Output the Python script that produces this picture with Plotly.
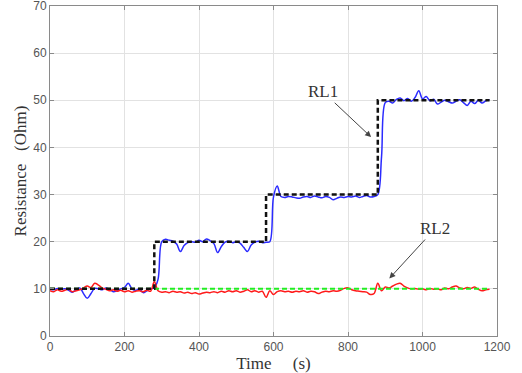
import plotly.graph_objects as go

time_s = list(range(0, 1190, 10))

rl1 = [10.0, 9.8, 10.1, 9.9, 10.0, 9.7, 9.3, 9.8, 10.2, 9.0,
       8.0, 9.0, 10.1, 10.0, 9.8, 10.2, 9.9, 9.4, 9.6, 10.0,
       10.3, 11.2, 10.0, 9.7, 10.0, 9.2, 9.6, 10.0, 10.2, 12.0,
       20.0, 20.5, 20.3, 20.1, 19.5, 17.9, 19.2, 19.8, 20.0, 19.9,
       20.3, 20.0, 20.6, 20.2, 19.6, 17.7, 19.0, 19.9, 20.1, 19.8,
       20.0, 19.7, 18.8, 17.9, 19.3, 19.9, 20.1, 19.8, 19.9, 20.0,
       29.5, 31.8, 29.6, 29.4, 29.6, 29.5, 29.3, 29.2, 29.5, 29.6,
       29.4, 29.7, 29.5, 29.3, 29.6, 29.4, 28.9, 29.2, 29.5, 29.4,
       29.6, 29.5, 29.7, 29.4, 29.6, 29.8, 29.5, 29.6, 30.0, 38.0,
       49.5, 49.8, 49.4, 50.2, 50.5, 49.9, 50.4, 49.8, 50.6, 52.0,
       50.3, 50.8, 49.9, 50.2, 49.2, 49.6, 50.0, 49.7, 49.4, 49.8,
       50.1, 49.5, 48.9, 49.8, 49.3, 50.0, 49.4, 49.9, 50.1]

rl2 = [9.6, 9.4, 9.8, 9.5, 9.7, 9.9, 9.4, 9.6, 9.8, 10.2,
       10.6, 10.3, 11.2, 10.8, 10.2, 9.9, 9.6, 9.8, 9.5, 9.7,
       9.4, 9.6, 9.3, 9.5, 9.6, 9.4, 9.7, 9.5, 11.5, 9.6,
       9.3, 9.4, 9.2, 9.5, 9.3, 9.4, 9.1, 9.3, 9.0, 9.2,
       8.9, 9.1, 9.3, 9.2, 9.4, 9.2, 9.5, 9.3, 9.6, 9.4,
       9.6, 9.3, 9.5, 9.8, 9.4, 9.6, 9.3, 9.5, 8.2, 9.6,
       8.8, 9.4, 9.6, 9.4, 9.5, 9.3, 9.5, 9.4, 9.6, 9.3,
       9.5, 9.4, 9.0, 9.3, 9.5, 9.4, 9.6, 9.5, 9.7, 10.1,
       10.2, 9.8, 9.6, 9.5, 9.4, 9.3, 8.8, 9.0, 11.2, 9.6,
       10.4, 10.2, 10.6, 11.0, 11.2, 10.6, 10.2, 10.0, 10.1, 9.9,
       10.0, 9.8, 10.1, 9.9, 10.0, 9.8, 10.2, 10.0, 10.4, 10.6,
       10.2, 10.0, 10.3, 10.1, 10.4, 9.9, 9.6, 9.8, 9.9]

ref1_t = [0, 280, 280, 580, 580, 880, 880, 1180]
ref1_v = [10, 10, 20, 20, 30, 30, 50, 50]
ref2_t = [0, 1180]
ref2_v = [10, 10]

x_ticks = [0, 200, 400, 600, 800, 1000, 1200]
y_ticks = [0, 10, 20, 30, 40, 50, 60, 70]

assert len(rl1) == len(time_s) and len(rl2) == len(time_s)

fig = go.Figure()
fig.add_trace(go.Scatter(x=time_s, y=rl1, mode="lines",
                         line=dict(color="#2b2bff", width=1.5), line_shape="spline"))
fig.add_trace(go.Scatter(x=time_s, y=rl2, mode="lines",
                         line=dict(color="#ff1a1a", width=1.5), line_shape="spline"))
fig.add_trace(go.Scatter(x=ref2_t, y=ref2_v, mode="lines",
                         line=dict(color="#22ee22", width=2, dash="5px,3px")))
fig.add_trace(go.Scatter(x=ref1_t, y=ref1_v, mode="lines",
                         line=dict(color="#111111", width=2.5, dash="5px,3px")))

fig.add_annotation(x=862, y=42.2, ax=733, ay=51.8, axref="x", ayref="y",
                   xref="x", yref="y", text="RL1", showarrow=True,
                   arrowhead=2, arrowsize=1.2, arrowwidth=1, arrowcolor="#444",
                   font=dict(family="Liberation Serif", size=17, color="#333"))
fig.add_annotation(x=911, y=12.2, ax=1034, ay=22.8, axref="x", ayref="y",
                   xref="x", yref="y", text="RL2", showarrow=True,
                   arrowhead=2, arrowsize=1.2, arrowwidth=1, arrowcolor="#444",
                   font=dict(family="Liberation Serif", size=17, color="#333"))

axis_common = dict(showline=True, linecolor="#8a8a8a", linewidth=1, mirror="ticks",
                   ticks="inside", ticklen=4, tickcolor="#8a8a8a",
                   showgrid=True, gridcolor="#e2e2e2", gridwidth=1, zeroline=False,
                   automargin=False, ticklabeloverflow="allow",
                   tickfont=dict(family="Liberation Sans", size=12, color="#555"))

fig.update_xaxes(range=[0, 1200], tickvals=x_ticks,
                 title=dict(text="Time\u00a0\u00a0\u00a0\u00a0\u00a0(s)", standoff=0,
                            font=dict(family="Liberation Serif", size=17, color="#333")),
                 **axis_common)
fig.update_yaxes(range=[0, 70], tickvals=y_ticks,
                 title=dict(text="Resistance\u00a0\u00a0\u00a0(Ohm)", standoff=2,
                            font=dict(family="Liberation Serif", size=17, color="#333")),
                 **axis_common)

fig.update_layout(width=522, height=373, showlegend=False,
                  margin=dict(l=50, r=25, t=6, b=37),
                  plot_bgcolor="white", paper_bgcolor="white")

fig.write_html("out.html", config={"displayModeBar": False},
               post_script="document.body.style.margin='0';document.body.style.overflow='hidden';")
